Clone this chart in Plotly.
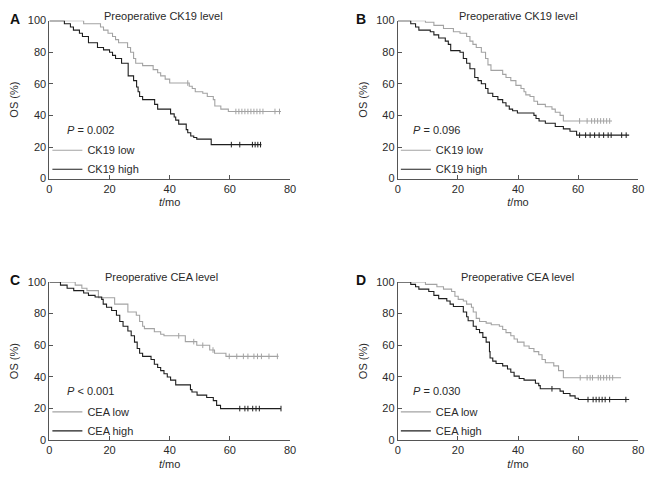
import bisect
import plotly.graph_objects as go

# ---------------- data ----------------
x_ticks = [0, 20, 40, 60, 80]
y_ticks = [0, 20, 40, 60, 80, 100]

# Panel A: Preoperative CK19 level
a_low_t = [11.4, 17, 18, 19.5, 21, 22, 23, 26, 27, 28, 28.7, 31, 34.5, 36, 37, 38.5, 40, 46.5, 47.5, 48.5, 51, 52.5, 54.5, 55, 57, 59.5]
a_low_s = [98, 96, 94, 92, 90, 88, 86, 83, 80, 76, 73, 71.5, 69, 67, 65, 63, 60.5, 58.5, 57, 55, 54, 52, 50, 46, 44, 42.5]
a_low_cens = [46, 62, 63, 64, 65, 66, 67, 68, 69, 70, 71, 75, 76.5]
a_low_end = 77
a_high_t = [5, 7, 8, 10, 11, 13, 16, 18, 20, 21, 22, 24, 26.2, 28, 29, 29.5, 30, 31, 35, 36, 40.3, 41.5, 42, 43, 45.5, 46, 47, 48, 49, 53.8]
a_high_s = [98, 96, 94, 92, 90, 86, 83, 81.5, 80, 78, 76, 73, 65, 62, 58, 55, 52, 50, 47, 44, 41, 39, 37, 34.5, 31, 29, 27, 26, 25, 21.5]
a_high_cens = [60.5, 63.3, 67.5, 68.4, 69.3, 70.2]
a_high_end = 70.5

# Panel B: Preoperative CK19 level
b_low_t = [9.2, 12, 15.2, 18.5, 20.7, 22.9, 24, 25, 26.1, 27.8, 29.2, 30, 31, 34.9, 36, 37.6, 39.3, 41, 42, 42.6, 44, 45.3, 46.5, 49.1, 51.3, 52.4, 54, 55.1]
b_low_s = [99, 97, 95, 93, 92, 90, 87, 85, 83, 80, 76, 72, 68.5, 66, 64, 62, 59, 57, 55, 53, 52, 49, 47, 45.5, 44, 42, 40, 36.5]
b_low_cens = [60.5, 63, 64.5, 65.5, 66.5, 67.5, 68.5, 69.5, 70.5]
b_low_end = 71.3
b_high_t = [4.3, 5.9, 7, 10.8, 12, 13.6, 15.8, 16.8, 17.6, 20.7, 21.8, 22.9, 24, 25.6, 26.7, 27.8, 29.2, 30, 31.6, 33.3, 34.9, 36, 37.1, 38.2, 39.8, 45.3, 46, 47, 49.1, 52.4, 55.1, 57.3, 59.5]
b_high_s = [98, 96, 94, 93, 91, 89, 87, 85, 81, 80, 76, 73, 69.5, 64, 62, 60, 57, 54, 52, 50, 48, 46, 44, 43, 41.5, 40, 38, 36.5, 35, 33, 31.5, 30, 27.5]
b_high_cens = [60.5, 62.5, 64, 65.5, 67, 68.5, 70, 71, 74.5, 76]
b_high_end = 77

# Panel C: Preoperative CEA level
c_low_t = [8.6, 10.8, 12.5, 16.3, 21.7, 26.1, 28.9, 30, 31, 31.6, 34.9, 37, 38.1, 45.2, 49, 53.3, 54.9, 58.7]
c_low_s = [98, 96, 94.5, 90, 86, 81, 79, 75, 72, 70.5, 68.5, 67, 66, 62.3, 60, 57, 55, 53]
c_low_cens = [43, 48, 51, 54.4, 59.8, 62.3, 64.5, 66, 68, 69.2, 70.5, 73, 75.8]
c_low_end = 76.2
c_high_t = [3.7, 5.9, 8.1, 11.4, 13, 15.2, 17.4, 17.9, 19, 20.7, 22.3, 23.4, 24.5, 26.1, 27.2, 28.3, 29.2, 30, 31, 33.8, 34.9, 36, 37, 38.1, 39.2, 40.3, 42, 46.9, 47.4, 49.1, 52.3, 54.5, 55.6, 56.9]
c_high_s = [98, 96, 94.5, 93, 91.5, 90.5, 89, 86, 84, 82, 79, 75, 72, 69, 66, 62, 58, 55, 53, 51, 48, 46, 44, 42, 40, 38, 35, 32, 30.5, 28.5, 27, 25, 22, 20]
c_high_cens = [63.3, 65, 66, 67.6, 68.7, 69.8, 77]
c_high_end = 77

# Panel D: Preoperative CEA level
d_low_t = [9.2, 13, 15.2, 17.9, 19, 20.1, 21.8, 22.9, 24.5, 25.1, 26.1, 27.2, 29.4, 31.1, 33.8, 34.9, 36, 37.6, 38.7, 39.8, 42, 43.7, 45.3, 46.9, 48, 49.1, 51.9, 53.5, 55.1]
d_low_s = [98.5, 97, 95.5, 94, 91, 89, 88, 86, 84, 81, 77, 75, 74, 73, 72, 70, 68, 66, 64, 62, 59.5, 58, 56, 54, 51, 49, 47, 44, 39.5]
d_low_cens = [60.7, 63, 64, 64.8, 66.7, 67.5, 68.5, 69.5, 70.5, 71.5]
d_low_end = 74.3
d_high_t = [4.3, 5.9, 7, 10.3, 12, 13.6, 16.3, 17.4, 18.5, 21.8, 22.9, 23.4, 25.1, 26.1, 27.2, 28.3, 29.4, 30.5, 30.7, 31.6, 32.7, 34.9, 36.5, 37.6, 38.7, 40.4, 42, 45.8, 46.9, 47.4, 54, 55.1, 57.3, 59, 60.1]
d_high_s = [98.5, 97, 95.5, 94, 91.5, 89.5, 88, 86, 84.5, 81, 78, 75.5, 72, 70, 68, 65, 62, 56, 52, 50, 48.5, 47, 45, 43, 40.5, 39, 38, 36, 34.5, 32.5, 31, 29.5, 28, 26.5, 25.7]
d_high_cens = [51.3, 63.3, 65, 66, 67, 68, 69, 70.5, 75.9]
d_high_end = 77

panel_letters = ["A", "B", "C", "D"]
panel_titles = ["Preoperative CK19 level", "Preoperative CK19 level",
                "Preoperative CEA level", "Preoperative CEA level"]
p_texts = ["<i>P</i> = 0.002", "<i>P</i> = 0.096", "<i>P</i> < 0.001", "<i>P</i> = 0.030"]
low_names = ["CK19 low", "CK19 low", "CEA low", "CEA low"]
high_names = ["CK19 high", "CK19 high", "CEA high", "CEA high"]

# ---------------- styling ----------------
FONT = "Liberation Sans, Arial, sans-serif"
LOW_COLOR = "#a3a3a3"
HIGH_COLOR = "#1e1e1e"
AXIS_COLOR = "#555555"
TEXT_COLOR = "#2a2a2a"

W, H = 658, 483
x_domains = [(47 / W, 291 / W), (400.3 / W, 644 / W)]
y_domains = [(1 - 177 / H, 1 - 15 / H), (1 - 445.3 / H, 1 - 283 / H)]


def km_xy(times, surv, end):
    return [0] + list(times) + [end], [100] + list(surv) + [surv[-1]]


def surv_at(times, surv, t):
    i = bisect.bisect_right(times, t)
    return 100 if i == 0 else surv[i - 1]


panels = [
    (a_low_t, a_low_s, a_low_cens, a_low_end, a_high_t, a_high_s, a_high_cens, a_high_end),
    (b_low_t, b_low_s, b_low_cens, b_low_end, b_high_t, b_high_s, b_high_cens, b_high_end),
    (c_low_t, c_low_s, c_low_cens, c_low_end, c_high_t, c_high_s, c_high_cens, c_high_end),
    (d_low_t, d_low_s, d_low_cens, d_low_end, d_high_t, d_high_s, d_high_cens, d_high_end),
]

fig = go.Figure()
layout = dict(
    width=W, height=H, margin=dict(l=0, r=0, t=0, b=0),
    paper_bgcolor="white", plot_bgcolor="white",
    font=dict(family=FONT, size=11, color=TEXT_COLOR),
    annotations=[],
)

title_xfrac = [0.475, 0.5, 0.467, 0.497]
p_pos = [(5.3, 31), (4.3, 31), (5.3, 31), (4.3, 31)]

for k, (lt, ls, lc, le, ht, hs, hc, he) in enumerate(panels):
    col = k % 2
    row = k // 2
    n = "" if k == 0 else str(k + 1)
    xa, ya = "x" + n, "y" + n
    leg = "legend" + n

    lx, ly = km_xy(lt, ls, le)
    hx, hy = km_xy(ht, hs, he)
    fig.add_trace(go.Scatter(x=lx, y=ly, mode="lines", line=dict(color=LOW_COLOR, width=1.1, shape="hv"),
                             name=low_names[k], xaxis=xa, yaxis=ya, legend=leg))
    fig.add_trace(go.Scatter(x=hx, y=hy, mode="lines", line=dict(color=HIGH_COLOR, width=1.1, shape="hv"),
                             name=high_names[k], xaxis=xa, yaxis=ya, legend=leg))
    fig.add_trace(go.Scatter(x=lc, y=[surv_at(lt, ls, t) for t in lc], mode="markers",
                             marker=dict(symbol="line-ns", size=4, line=dict(color=LOW_COLOR, width=1)),
                             showlegend=False, xaxis=xa, yaxis=ya, cliponaxis=False))
    fig.add_trace(go.Scatter(x=hc, y=[surv_at(ht, hs, t) for t in hc], mode="markers",
                             marker=dict(symbol="line-ns", size=4, line=dict(color=HIGH_COLOR, width=1)),
                             showlegend=False, xaxis=xa, yaxis=ya, cliponaxis=False))

    axis_common = dict(showline=True, linecolor=AXIS_COLOR, linewidth=1, ticks="inside", ticklen=4,
                       tickcolor=AXIS_COLOR, tickwidth=1, showgrid=False, zeroline=False,
                       tickfont=dict(size=11, color=TEXT_COLOR))
    layout["xaxis" + n] = dict(axis_common, domain=list(x_domains[col]), anchor=ya, range=[0, 80],
                               tickvals=x_ticks,
                               title=dict(text="<i>t</i>/mo", standoff=4, font=dict(size=11)))
    layout["yaxis" + n] = dict(axis_common, domain=list(y_domains[row]), anchor=xa, range=[0, 100],
                               tickvals=y_ticks,
                               title=dict(text="OS (%)", standoff=6, font=dict(size=11)))

    x0p, x1p = x_domains[col]
    y0p, y1p = y_domains[row]
    layout[leg] = dict(x=x0p - 2 / W, y=y0p + 44 / H, xanchor="left", yanchor="top",
                       bgcolor="rgba(0,0,0,0)", borderwidth=0, font=dict(size=11, color=TEXT_COLOR),
                       itemwidth=30, tracegroupgap=0)

    layout["annotations"].append(dict(text=panel_titles[k], xref=xa + " domain", yref="paper",
                                      x=title_xfrac[k], y=y1p + 5 / H, xanchor="center", yanchor="middle",
                                      showarrow=False, font=dict(size=11, color=TEXT_COLOR)))
    layout["annotations"].append(dict(text="<b>%s</b>" % panel_letters[k], xref="paper", yref="paper",
                                      x=(12 + col * 351) / W, y=y1p + 2 / H, xanchor="center",
                                      yanchor="middle", showarrow=False,
                                      font=dict(size=14, color="#111111")))
    layout["annotations"].append(dict(text=p_texts[k], xref=xa, yref=ya, x=p_pos[k][0], y=p_pos[k][1],
                                      xanchor="left", yanchor="middle", showarrow=False,
                                      font=dict(size=11, color=TEXT_COLOR)))

fig.update_layout(**layout)
fig.write_html("out.html", config={"displayModeBar": False},
               post_script="document.body.style.margin='0px';document.body.style.overflow='hidden';")
